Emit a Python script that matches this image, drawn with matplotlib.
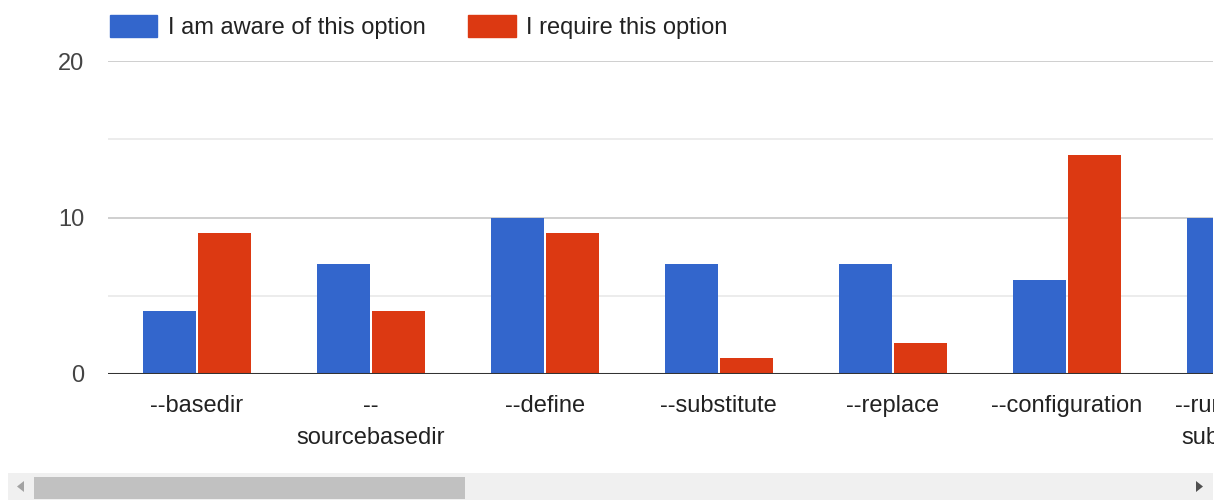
import matplotlib
matplotlib.use("Agg")
import matplotlib.pyplot as plt
from matplotlib.patches import Rectangle, Polygon
from matplotlib.transforms import blended_transform_factory, ScaledTranslation
import numpy as np

categories = ["--basedir", "--\nsourcebasedir", "--define", "--substitute",
              "--replace", "--configuration", "--run-before-\nsubstitution"]
aware = [4, 7, 10, 7, 7, 6, 10]
require = [9, 4, 9, 1, 2, 14, 5]
series_names = ["I am aware of this option", "I require this option"]
yticks = [0, 10, 20]

BLUE = "#3366cc"
RED = "#dc3912"

plt.rcParams['font.family'] = ['Liberation Sans', 'DejaVu Sans']

W, H = 1225, 500
fig = plt.figure(figsize=(W / 100, H / 100), dpi=100)
ax = fig.add_axes([108 / W, 126 / H, (1213 - 108) / W, (374 - 61) / H])

x = np.arange(len(categories))
bw = 0.305
ax.bar(x - bw / 2 - 0.006, aware, width=bw, color=BLUE, zorder=3)
ax.bar(x + bw / 2 + 0.006, require, width=bw, color=RED, zorder=3)

ax.set_xticks([])
ax.set_yticks(yticks)
ax.set_yticklabels([str(v) for v in yticks])
ax.set_yticks([5, 15], minor=True)
ax.set_xlim(-0.51, 5.84)
ax.set_ylim(0, 20)
ax.grid(axis='y', which='major', color='#cccccc', linewidth=1.3, zorder=1)
ax.grid(axis='y', which='minor', color='#ebebeb', linewidth=1.3, zorder=1)
ax.axhline(0, color='#333333', linewidth=2.2, zorder=4)
for s in ax.spines.values():
    s.set_visible(False)
ax.tick_params(axis='both', which='both', length=0, labelsize=17, colors='#222222')
ax.tick_params(axis='y', pad=17, labelcolor='#444444')

# category labels (drawn as text so the partly visible last one shows, clipped at the chart edge)
trans = blended_transform_factory(ax.transData, ax.transAxes) + \
    ScaledTranslation(0, -14.8 / 72, fig.dpi_scale_trans)
for xi, lab in zip(x, categories):
    ax.text(xi, 0, lab, transform=trans, ha='center', va='top', fontsize=17,
            color='#222222', linespacing=1.6, clip_on=False)

# legend
handles = [Rectangle((0, 0), 1, 1, color=BLUE), Rectangle((0, 0), 1, 1, color=RED)]
fig.legend(handles, series_names, loc='center left', bbox_to_anchor=(89 / W, 1 - 27 / H),
           ncol=2, frameon=False, fontsize=17, handlelength=2.0, handleheight=1.05,
           handletextpad=0.45, columnspacing=1.8, labelcolor='#222222')

# clip area right of the chart
fig.patches.append(Rectangle((1214 / W, 0), 1, 1, transform=fig.transFigure,
                             facecolor='white', edgecolor='none', zorder=20))

# scrollbar
fig.patches.append(Rectangle((8 / W, 0), (1213 - 8) / W, 27 / H, transform=fig.transFigure,
                             facecolor='#f0f0f0', edgecolor='none', zorder=21))
fig.patches.append(Rectangle((34 / W, 1 / H), (465 - 34) / W, 22 / H, transform=fig.transFigure,
                             facecolor='#c1c1c1', edgecolor='none', zorder=22))
fig.patches.append(Polygon([(24 / W, 19 / H), (24 / W, 8 / H), (17 / W, 13.5 / H)],
                           closed=True, transform=fig.transFigure,
                           facecolor='#a3a3a3', edgecolor='none', zorder=22))
fig.patches.append(Polygon([(1196 / W, 19 / H), (1196 / W, 8 / H), (1203 / W, 13.5 / H)],
                           closed=True, transform=fig.transFigure,
                           facecolor='#505050', edgecolor='none', zorder=22))

fig.savefig("out.png", dpi=100, facecolor='white')
